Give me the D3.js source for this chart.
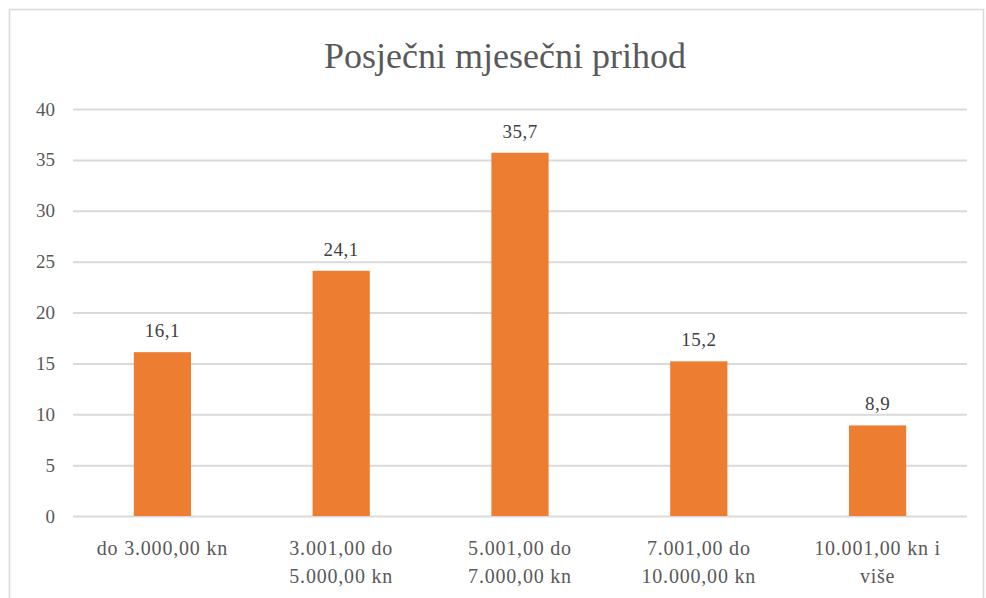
<!DOCTYPE html>
<html>
<head>
<meta charset="utf-8">
<script src="https://cdn.jsdelivr.net/npm/d3@7"></script>
<style>
  html, body { margin: 0; padding: 0; background: #fff; }
  svg text { font-family: "Liberation Serif", "Times New Roman", "DejaVu Serif", serif; }
</style>
</head>
<body>
<svg id="chart" width="986" height="598"></svg>
<script>
const categories = [
    ['do 3.000,00 kn'],
    ['3.001,00 do', '5.000,00 kn'],
    ['5.001,00 do', '7.000,00 kn'],
    ['7.001,00 do', '10.000,00 kn'],
    ['10.001,00 kn i', 'više'],
];
const values = [16.1, 24.1, 35.7, 15.2, 8.9];
const yTicks = [0, 5, 10, 15, 20, 25, 30, 35, 40];
const title = 'Posječni mjesečni prihod';

(function () {
    'use strict';

    const svg = d3.select('#chart');
    const left = 73, right = 967, top = 109, bottom = 516;

    // chart frame
    svg.append('rect')
        .attr('x', 9.5).attr('y', 9.5)
        .attr('width', 974).attr('height', 600)
        .attr('fill', '#fff')
        .attr('stroke', '#d9d9d9')
        .attr('stroke-width', 1.5);

    const x = d3.scaleBand()
        .domain(d3.range(categories.length))
        .range([left, right])
        .paddingInner(0.68)
        .paddingOuter(0.34);

    const y = d3.scaleLinear().domain([0, 40]).range([bottom, top]);

    const yAxis = d3.axisLeft(y).tickValues(yTicks).tickSize(-(right - left)).tickPadding(18);
    const gy = svg.append('g').attr('transform', `translate(${left},0)`).call(yAxis);
    gy.select('.domain').remove();
    gy.selectAll('.tick line').attr('stroke', '#d9d9d9').attr('stroke-width', 2);
    gy.selectAll('.tick text')
        .attr('font-family', null)
        .attr('font-size', 19)
        .attr('fill', '#595959');

    svg.append('text')
        .attr('x', 505)
        .attr('y', 68)
        .attr('text-anchor', 'middle')
        .attr('font-size', 36)
        .attr('fill', '#595959')
        .text(title);

    svg.append('g').selectAll('rect')
        .data(values)
        .join('rect')
        .attr('x', (d, i) => x(i))
        .attr('y', d => y(d))
        .attr('width', x.bandwidth())
        .attr('height', d => y(0) - y(d))
        .attr('fill', '#ed7d31');

    svg.append('g').selectAll('text')
        .data(values)
        .join('text')
        .attr('x', (d, i) => x(i) + x.bandwidth() / 2)
        .attr('y', d => y(d) - 15)
        .attr('text-anchor', 'middle')
        .attr('font-size', 19)
        .attr('letter-spacing', 0.5)
        .attr('fill', '#404040')
        .text(d => String(d).replace('.', ','));

    const catG = svg.append('g').selectAll('text')
        .data(categories)
        .join('text')
        .attr('x', (d, i) => x(i) + x.bandwidth() / 2)
        .attr('y', 555)
        .attr('text-anchor', 'middle')
        .attr('font-size', 20)
        .attr('letter-spacing', 0.8)
        .attr('fill', '#595959');
    catG.selectAll('tspan')
        .data(d => d)
        .join('tspan')
        .attr('x', function () { return this.parentNode.getAttribute('x'); })
        .attr('dy', (d, i) => i === 0 ? 0 : 28)
        .text(d => d);
})();
</script>
</body>
</html>
